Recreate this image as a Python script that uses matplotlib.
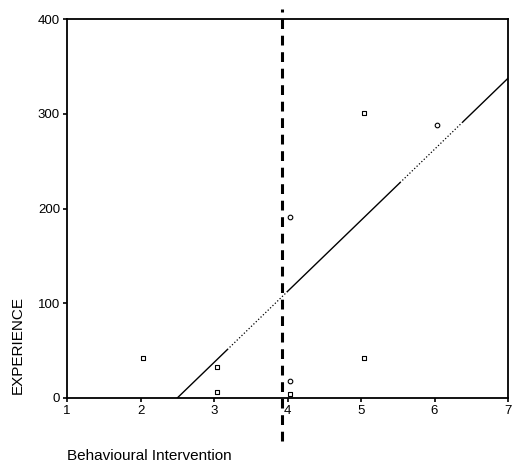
import matplotlib
matplotlib.use("Agg")
import matplotlib.pyplot as plt
import numpy as np

plt.rcParams['font.family'] = ['Liberation Sans', 'DejaVu Sans']

# Data
intervention = [2, 3, 3, 4, 4, 4, 5, 5, 6]
experience = [42, 33, 6, 191, 18, 4, 42, 301, 288]
markers = ['s', 's', 's', 'o', 'o', 's', 's', 's', 'o']

# regression line (drawn from x where it crosses 0 to the right edge)
fit_slope = 75.0
fit_intercept = -187.5
# pieces of the printed line: (start, end, style)
fit_pieces = [(2.5, 3.18, '-'), (3.18, 4.0, ':'), (4.0, 5.53, '-'),
              (5.53, 6.39, ':'), (6.39, 7.0, '-')]

cut_x = 3.93

xticks = [1, 2, 3, 4, 5, 6, 7]
yticks = [0, 100, 200, 300, 400]

fig = plt.figure(figsize=(5.12, 4.69), dpi=100)
ax = fig.add_axes([0.1309, 0.1514, 0.8613, 0.808])

for x, y, m in zip(intervention, experience, markers):
    ax.scatter([x + 0.04], [y], marker=m, s=11, facecolors='white',
               edgecolors='black', linewidths=0.8, zorder=3)

for a, b, ls in fit_pieces:
    xs = np.array([a, b])
    ax.plot(xs, fit_slope * xs + fit_intercept, color='black',
            linestyle=ls, linewidth=1.0 if ls == '-' else 0.9)

ax.plot([cut_x, cut_x], [-45, 411], color='black', linestyle=(0, (3.2, 2.2)),
        linewidth=2.2, clip_on=False, zorder=4)

ax.set_xlim(1, 7)
ax.set_ylim(0, 400)
ax.set_xticks(xticks)
ax.set_yticks(yticks)
ax.tick_params(axis='both', direction='out', length=3, width=1.2,
               labelsize=9.5, pad=2)
for s in ax.spines.values():
    s.set_linewidth(1.3)

fig.text(0.035, 0.264, 'EXPERIENCE', rotation=90, ha='center', va='center',
         fontsize=11)
fig.text(0.131, 0.027, 'Behavioural Intervention', ha='left', va='center',
         fontsize=11)

fig.savefig('out.png', dpi=100)
